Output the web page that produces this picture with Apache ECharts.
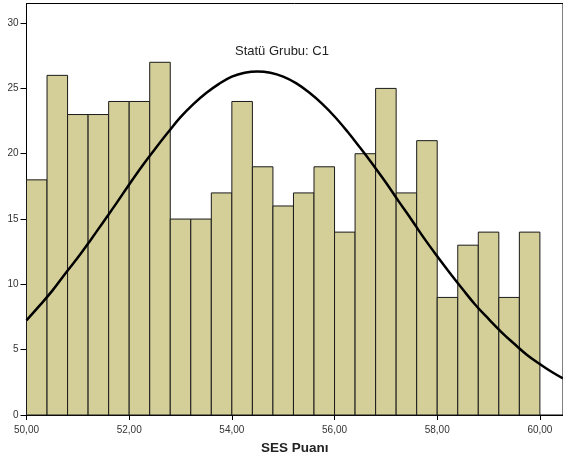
<!DOCTYPE html>
<html>
<head>
<meta charset="utf-8">
<script src="https://cdn.jsdelivr.net/npm/echarts@6/dist/echarts.min.js"></script>
<style>
html, body { margin: 0; padding: 0; background: #fff; }
#chart { width: 563px; height: 461px; }
</style>
</head>
<body>
<div id="chart"></div>
<script>
// histogram bins (start of each 0,40 wide bin) and frequencies
var binStarts = [50.0, 50.4, 50.8, 51.2, 51.6, 52.0, 52.4, 52.8, 53.2, 53.6,
                 54.0, 54.4, 54.8, 55.2, 55.6, 56.0, 56.4, 56.8, 57.2, 57.6,
                 58.0, 58.4, 58.8, 59.2, 59.6];
var binWidth = 0.4;
var counts = [18, 26, 23, 23, 24, 24, 27, 15, 15, 17,
              24, 19, 16, 17, 19, 14, 20, 25, 17, 21,
              9, 13, 14, 9, 14];
// normal curve
var curveX = [50, 50.25, 50.5, 50.75, 51, 51.25, 51.5, 51.75, 52, 52.25, 52.5, 52.75,
              53, 53.25, 53.5, 53.75, 54, 54.25, 54.5, 54.75, 55, 55.25, 55.5, 55.75,
              56, 56.25, 56.5, 56.75, 57, 57.25, 57.5, 57.75, 58, 58.25, 58.5, 58.75,
              59, 59.25, 59.5, 59.75, 60, 60.25, 60.45];
var curveY = [7.25, 8.35, 9.5, 10.8, 12.05, 13.4, 14.8, 16.2, 17.65, 19.05, 20.35, 21.6,
              22.8, 23.8, 24.65, 25.35, 25.9, 26.2, 26.3, 26.2, 25.9, 25.4, 24.7, 23.85,
              22.85, 21.7, 20.45, 19.15, 17.8, 16.35, 14.95, 13.5, 12.15, 10.85, 9.6, 8.4,
              7.35, 6.35, 5.45, 4.6, 3.9, 3.25, 2.8];
var xTicks = [50, 52, 54, 56, 58, 60];
var yTicks = [0, 5, 10, 15, 20, 25, 30];

var chart = echarts.init(document.getElementById('chart'));

var barData = binStarts.map(function (s, i) { return [s, counts[i]]; });
var lineData = curveX.map(function (x, i) { return [x, curveY[i]]; });

var option = {
  animation: false,
  textStyle: { fontFamily: 'Liberation Sans, Arial, sans-serif' },
  title: {
    text: 'Statü Grubu: C1',
    left: 230,
    top: 40,
    textStyle: { fontSize: 13, fontWeight: 'normal', color: '#222' }
  },
  grid: {
    left: 26.5, right: 0, top: 3.5, bottom: 46,
    show: true, borderColor: '#000', borderWidth: 1
  },
  xAxis: {
    type: 'value',
    min: 50, max: 60.45,
    name: 'SES Puanı',
    nameLocation: 'middle',
    nameGap: 26,
    nameTextStyle: { fontSize: 13.5, fontWeight: 'bold', color: '#222' },
    splitLine: { show: false },
    axisLine: { lineStyle: { color: '#000', width: 1 } },
    axisTick: { customValues: xTicks, length: 5, lineStyle: { color: '#000' } },
    axisLabel: {
      customValues: xTicks,
      fontSize: 10, color: '#333', margin: 10,
      formatter: function (v) { return v.toFixed(2).replace('.', ','); }
    }
  },
  yAxis: {
    type: 'value',
    min: 0, max: 31.5,
    splitLine: { show: false },
    axisLine: { show: true, lineStyle: { color: '#000', width: 1 } },
    axisTick: { show: true, customValues: yTicks, length: 6, lineStyle: { color: '#000' } },
    axisLabel: { customValues: yTicks, fontSize: 10, color: '#333', margin: 8 }
  },
  series: [
    {
      type: 'custom',
      data: barData,
      renderItem: function (params, api) {
        var p0 = api.coord([api.value(0), api.value(1)]);
        var p1 = api.coord([api.value(0) + binWidth, 0]);
        return {
          type: 'rect',
          shape: { x: p0[0], y: p0[1], width: p1[0] - p0[0], height: p1[1] - p0[1] },
          style: { fill: '#d4cf99', stroke: '#1a1a1a', lineWidth: 1 }
        };
      },
      z: 2
    },
    {
      type: 'line',
      data: lineData,
      smooth: 0.4,
      symbol: 'none',
      lineStyle: { color: '#000', width: 2.5 },
      z: 3
    }
  ]
};
chart.setOption(option);
</script>
</body>
</html>
